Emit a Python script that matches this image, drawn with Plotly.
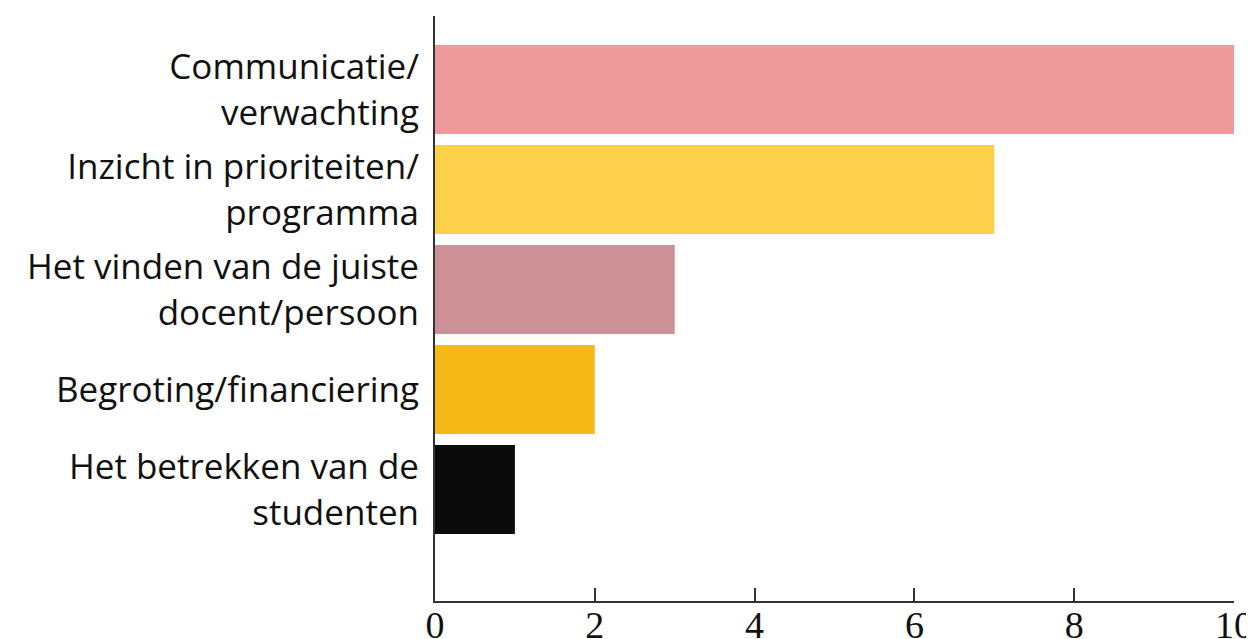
import plotly.graph_objects as go

categories = [
    "Communicatie/<br>verwachting",
    "Inzicht in prioriteiten/<br>programma",
    "Het vinden van de juiste<br>docent/persoon",
    "Begroting/financiering",
    "Het betrekken van de<br>studenten",
]
values = [10, 7, 3, 2, 1]
colors = ["#EE999B", "#FCD04B", "#CC9097", "#F6B918", "#0A0A0A"]
x_ticks = [0, 2, 4, 6, 8, 10]

fig = go.Figure(go.Bar(
    x=values, y=categories, orientation="h",
    marker=dict(color=colors, line=dict(width=0)),
    width=0.89, hoverinfo="skip",
))

# page body has an 8px default margin, so the figure is a bit smaller than the window
fig.update_layout(
    template="none",
    width=1246, height=631,
    margin=dict(l=427, r=20, t=8, b=38, pad=0),
    paper_bgcolor="white", plot_bgcolor="white",
    showlegend=False,
    font=dict(family="Open Sans, sans-serif", color="#111"),
)
fig.update_xaxes(
    range=[0, 10], tickvals=x_ticks, showgrid=False, zeroline=False,
    showline=True, linecolor="#333", linewidth=2, automargin=False,
    ticks="inside", ticklen=13, tickwidth=2, tickcolor="#333",
    ticklabelstandoff=-11,
    tickfont=dict(family="Liberation Serif, serif", size=38, color="#111"),
)
fig.update_yaxes(
    range=[5.115, -0.735], showgrid=False, zeroline=False,
    showline=True, linecolor="#333", linewidth=2, automargin=False,
    ticks="", ticklabelstandoff=7,
    tickfont=dict(family="Open Sans, sans-serif", size=35, color="#111"),
)

fig.write_html("out.html")
